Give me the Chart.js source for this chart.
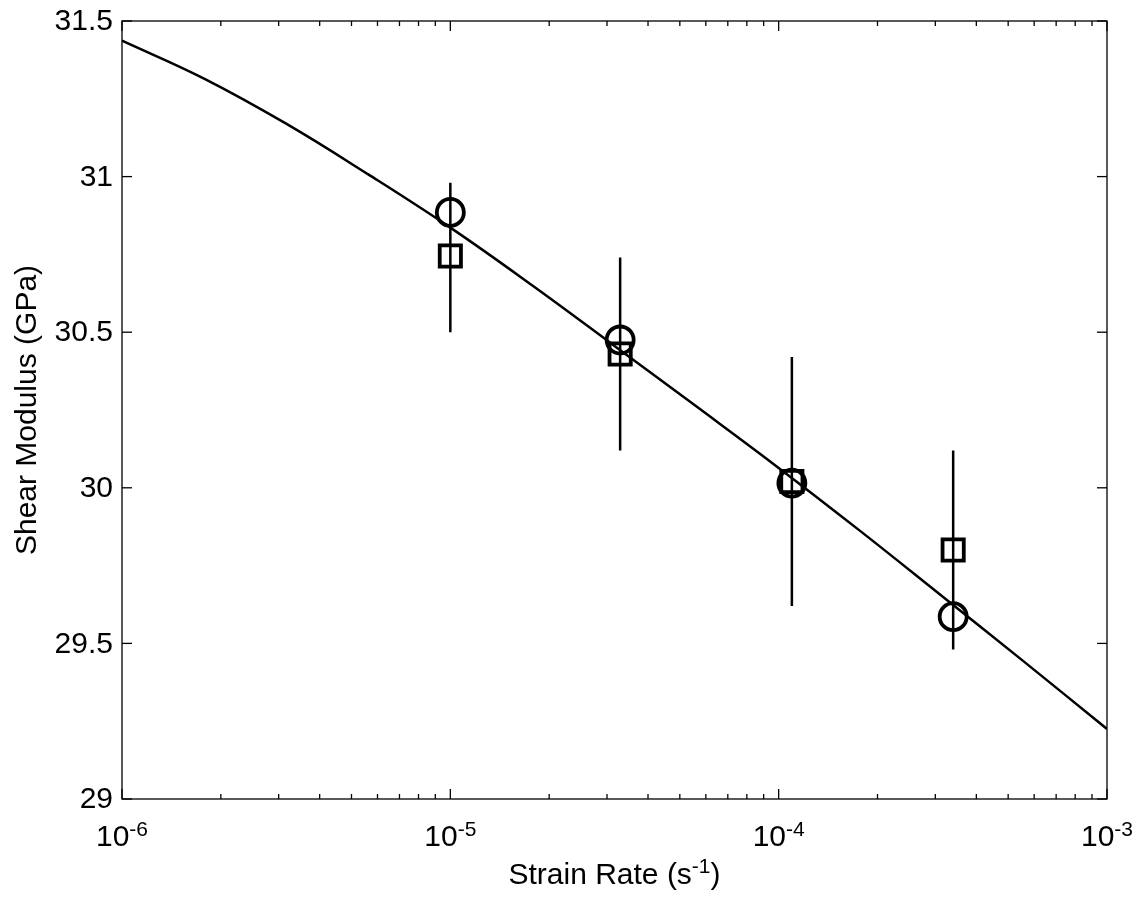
<!DOCTYPE html>
<html>
<head>
<meta charset="utf-8">
<script src="https://cdn.jsdelivr.net/npm/chart.js@4/dist/chart.umd.min.js"></script>
<style>
  html, body { margin: 0; padding: 0; background: #fff; }
  #wrap { width: 1148px; height: 905px; position: relative; }
</style>
</head>
<body>
<div id="wrap"><canvas id="c"></canvas></div>
<script>
// ---- data ----
const strainRates   = [1.0e-5, 3.29e-5, 1.097e-4, 3.40e-4];
const circleModulus = [30.885, 30.475, 30.015, 29.586];
const squareModulus = [30.745, 30.430, 30.020, 29.800];
const errLow        = [30.50, 30.12, 29.62, 29.48];
const errHigh       = [30.98, 30.74, 30.42, 30.12];

const fitRates   = [1e-6, 1.778e-6, 3.162e-6, 5.623e-6, 1e-5, 1.778e-5, 3.162e-5, 5.623e-5,
                    1e-4, 1.778e-4, 3.162e-4, 5.623e-4, 1e-3];
const fitModulus = [31.437, 31.315, 31.170, 31.007, 30.836, 30.650, 30.456, 30.261,
                    30.064, 29.860, 29.650, 29.439, 29.225];

const xExponents   = [-6, -5, -4, -3];
const yTickValues  = [29, 29.5, 30, 30.5, 31, 31.5];
const yTickLabels  = ['29', '29.5', '30', '30.5', '31', '31.5'];
const yTitle = 'Shear Modulus (GPa)';
const xTitleMain = 'Strain Rate (s';
const xTitleSup = '-1';
const xTitleEnd = ')';

const FONT = '"Liberation Sans", Arial, sans-serif';

const errData = [];
strainRates.forEach((r, i) => {
  errData.push({x: r, y: errLow[i]}, {x: r, y: errHigh[i]}, {x: r, y: null});
});

const axisPlugin = {
  id: 'axisDecor',
  afterDraw(chart) {
    const {ctx, chartArea: a, scales: {x, y}} = chart;
    ctx.save();
    ctx.strokeStyle = '#000';
    ctx.fillStyle = '#000';
    ctx.lineWidth = 1.3;
    const seg = (x1, y1, x2, y2) => { ctx.beginPath(); ctx.moveTo(x1, y1); ctx.lineTo(x2, y2); ctx.stroke(); };
    ctx.strokeRect(a.left, a.top, a.right - a.left, a.bottom - a.top);
    // x ticks (log)
    for (let e = xExponents[0]; e <= xExponents[xExponents.length - 1]; e++) {
      for (let m = 1; m <= 9; m++) {
        const v = m * Math.pow(10, e);
        if (v > x.max * 1.0001) break;
        const px = x.getPixelForValue(v);
        const len = m === 1 ? 10 : 5;
        seg(px, a.bottom, px, a.bottom - len);
        seg(px, a.top, px, a.top + len);
      }
    }
    // y ticks
    yTickValues.forEach(v => {
      const py = y.getPixelForValue(v);
      seg(a.left, py, a.left + 10, py);
      seg(a.right, py, a.right - 10, py);
    });
    // y tick labels
    ctx.font = '30px ' + FONT;
    ctx.textAlign = 'right';
    ctx.textBaseline = 'middle';
    yTickValues.forEach((v, i) => {
      ctx.fillText(yTickLabels[i], a.left - 9, y.getPixelForValue(v) + 1);
    });
    // x tick labels with superscripts
    ctx.textBaseline = 'alphabetic';
    ctx.textAlign = 'left';
    xExponents.forEach(e => {
      const px = x.getPixelForValue(Math.pow(10, e));
      ctx.font = '30px ' + FONT;
      const wb = ctx.measureText('10').width;
      ctx.font = '21px ' + FONT;
      const sup = String(e);
      const ws = ctx.measureText(sup).width;
      const x0 = px - (wb + ws) / 2;
      ctx.font = '30px ' + FONT;
      ctx.fillText('10', x0, a.bottom + 47);
      ctx.font = '21px ' + FONT;
      ctx.fillText(sup, x0 + wb, a.bottom + 37);
    });
    // x title
    ctx.font = '30px ' + FONT;
    const w1 = ctx.measureText(xTitleMain).width;
    const w3 = ctx.measureText(xTitleEnd).width;
    ctx.font = '21px ' + FONT;
    const w2 = ctx.measureText(xTitleSup).width;
    const cx = (a.left + a.right) / 2;
    let sx = cx - (w1 + w2 + w3) / 2;
    const by = a.bottom + 85;
    ctx.font = '30px ' + FONT;
    ctx.fillText(xTitleMain, sx, by);
    ctx.font = '21px ' + FONT;
    ctx.fillText(xTitleSup, sx + w1, by - 11);
    ctx.font = '30px ' + FONT;
    ctx.fillText(xTitleEnd, sx + w1 + w2, by);
    // y title
    ctx.save();
    ctx.translate(28, (a.top + a.bottom) / 2);
    ctx.rotate(-Math.PI / 2);
    ctx.textAlign = 'center';
    ctx.textBaseline = 'middle';
    ctx.font = '30px ' + FONT;
    ctx.fillText(yTitle, 0, 0);
    ctx.restore();
    ctx.restore();
  }
};

new Chart(document.getElementById('c'), {
  type: 'line',
  data: {
    datasets: [
      {
        label: 'circles',
        type: 'scatter',
        data: strainRates.map((r, i) => ({x: r, y: circleModulus[i]})),
        pointStyle: 'circle',
        pointRadius: 13.5,
        pointBorderWidth: 3.8,
        pointBorderColor: '#000',
        pointBackgroundColor: 'rgba(0,0,0,0)',
        showLine: false
      },
      {
        label: 'squares',
        type: 'scatter',
        data: strainRates.map((r, i) => ({x: r, y: squareModulus[i]})),
        pointStyle: 'rect',
        pointRadius: 15,
        pointBorderWidth: 3.8,
        pointBorderColor: '#000',
        pointBackgroundColor: 'rgba(0,0,0,0)',
        showLine: false
      },
      {
        label: 'error',
        data: errData,
        borderColor: '#000',
        borderWidth: 2.5,
        pointRadius: 0,
        spanGaps: false,
        tension: 0
      },
      {
        label: 'fit',
        data: fitRates.map((r, i) => ({x: r, y: fitModulus[i]})),
        borderColor: '#000',
        borderWidth: 2.5,
        pointRadius: 0,
        tension: 0.4
      }
    ]
  },
  options: {
    responsive: true,
    maintainAspectRatio: false,
    animation: false,
    layout: { padding: { left: 122, top: 21, right: 41, bottom: 106 } },
    plugins: { legend: { display: false }, tooltip: { enabled: false } },
    scales: {
      x: { type: 'logarithmic', min: 1e-6, max: 1e-3, display: false },
      y: { type: 'linear', min: 29, max: 31.5, display: false }
    }
  },
  plugins: [axisPlugin]
});
</script>
</body>
</html>
